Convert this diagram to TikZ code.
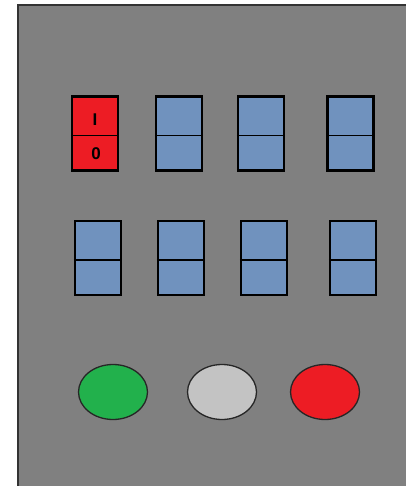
\documentclass[tikz,border=0pt]{standalone}
\usepackage{fontspec}
\setsansfont{Liberation Sans}
\usetikzlibrary{shapes.geometric}

\definecolor{panelgray}{HTML}{808080}
\definecolor{switchblue}{HTML}{7092BE}
\definecolor{switchred}{HTML}{ED1C24}
\definecolor{lampgreen}{HTML}{22B14C}
\definecolor{lampgray}{HTML}{C3C3C3}

\tikzset{
  switchbox/.style={draw=black, line width=2.2pt, rectangle, minimum width=46pt, minimum height=74pt, inner sep=0pt},
  lamp/.style={draw=black!85, line width=1.3pt, ellipse, minimum width=69pt, minimum height=55pt, inner sep=0pt},
  switchtext/.style={font=\fontsize{17}{17}\selectfont\sffamily\bfseries, inner sep=0pt}
}

\begin{document}
\begin{tikzpicture}[x=1pt,y=-1pt]

\def \rowone {133.5}
\def \rowtwo {258}
\def \lamprow {392}

\useasboundingbox (0,0) rectangle (406,486);

% panel
\fill[panelgray] (18,5) rectangle (406,486);
\draw[black!80, line width=2pt] (18,486) -- (18,5) -- (406,5);

% upper row of switches
\node[switchbox, fill=switchred] (sa) at (95,\rowone) {};
\node[switchbox, fill=switchblue] (sb) at (179,\rowone) {};
\node[switchbox, fill=switchblue] (sc) at (261,\rowone) {};
\node[switchbox, fill=switchblue] (sd) at (350.5,\rowone) {};

% lower row of switches
\node[switchbox, fill=switchblue] (se) at (98,\rowtwo) {};
\node[switchbox, fill=switchblue] (sf) at (181,\rowtwo) {};
\node[switchbox, fill=switchblue] (sg) at (264,\rowtwo) {};
\node[switchbox, fill=switchblue] (sh) at (353,\rowtwo) {};

% dividers
\foreach \s in {sa,sb,sc,sd,se,sf,sg,sh}
  \draw[black, line width=1.8pt] ([yshift=-2pt]\s.west) -- ([yshift=-2pt]\s.east);

\node[switchtext] (on) at ([yshift=13.5pt]sa.center) {I};
\node[switchtext] (off) at ([xshift=1pt,yshift=-20.5pt]sa.center) {0};

% lamps
\node[lamp, fill=lampgreen] (lg) at (113,\lamprow) {};
\node[lamp, fill=lampgray] (lw) at (222,\lamprow) {};
\node[lamp, fill=switchred] (lr) at (325,\lamprow) {};

\end{tikzpicture}
\end{document}
